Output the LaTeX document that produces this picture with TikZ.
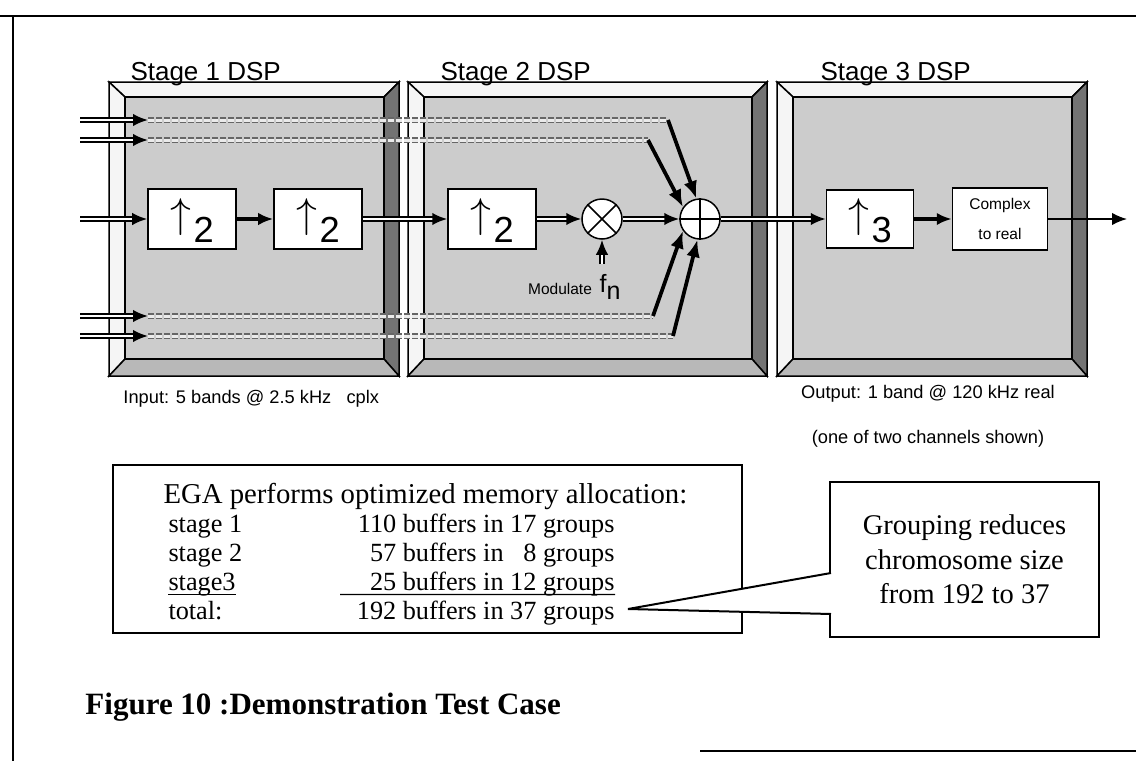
\documentclass[tikz,border=0pt]{standalone}
\usepackage{graphicx}
\usepackage{fontspec}
\setmainfont{Liberation Serif}
\setsansfont{Liberation Sans}
\usetikzlibrary{arrows.meta,positioning}

% up-sampler label: tall thin arrow followed by a lowered factor
\newcommand{\upby}[1]{\raisebox{-6.8pt}{\resizebox*{!}{14.8pt}{\raisebox{\depth}{$\uparrow$}}}\kern1pt\raisebox{-9.2pt}{\fontsize{14.5}{14.5}\selectfont #1}}

\tikzset{
  upbox/.style={draw, fill=white, line width=0.6pt, minimum width=35.2pt, minimum height=24pt, inner sep=0pt,
                text height=0pt, text depth=0pt, font=\sffamily\fontsize{10}{12}\selectfont},
  opnode/.style={draw, circle, fill=white, line width=0.6pt, minimum size=16pt, inner sep=0pt},
  bus/.style={double, double distance=0.8pt, line width=0.9pt, -{Latex[length=6pt,width=5pt]}},
  sig/.style={line width=1.4pt, -{Latex[length=6pt,width=5pt]}},
  feed/.style={line width=1.5pt, -{Latex[length=7pt,width=5.5pt]}},
  chan/.style={black!60, double=black!8, double distance=1.2pt, line width=0.45pt, dash pattern=on 2.5pt off 0.7pt},
  title/.style={font=\sffamily\fontsize{10.4}{12}\selectfont, anchor=base west, inner sep=0pt},
  note/.style={font=\sffamily\fontsize{7.3}{8}\selectfont, inner sep=0pt},
  memo/.style={font=\fontsize{10.5}{12}\selectfont, inner sep=0pt, anchor=base west},
}

\begin{document}
\begin{tikzpicture}[x=0.4pt,y=-0.4pt]
  \useasboundingbox (0,0) rectangle (1136,761);
  % page rules
  \draw[line width=0.8pt] (0,16) -- (1136,16);
  \draw[line width=0.8pt] (13,16) -- (13,761);
  \draw[line width=0.8pt] (700,751) -- (1136,751);

  % DSP panels
  \foreach \xa/\xb in {109/399, 408/767, 777/1087} {
    \draw[line width=0.6pt, fill=black!4] (\xa,82) -- (\xb,82) -- (\xb-15,97) -- (\xa+16,97) -- cycle;
    \draw[line width=0.6pt, fill=black!4] (\xa,82) -- (\xa+16,97) -- (\xa+16,359) -- (\xa,376) -- cycle;
    \draw[line width=0.6pt, fill=black!55] (\xb,82) -- (\xb,376) -- (\xb-15,359) -- (\xb-15,97) -- cycle;
    \draw[line width=0.6pt, fill=black!28] (\xa,376) -- (\xa+16,359) -- (\xb-15,359) -- (\xb,376) -- cycle;
    \draw[line width=0.6pt, fill=black!20] (\xa+16,97) rectangle (\xb-15,359);
  }
  \node[title] (t1) at (130,80) {Stage 1 DSP};
  \node[title] (t2) at (440,80) {Stage 2 DSP};
  \node[title] (t3) at (820,80) {Stage 3 DSP};

  % blocks
  \node[upbox] (up1) at (192,219) {\upby{2}};
  \node[upbox] (up2) at (318,219) {\upby{2}};
  \node[upbox] (up3) at (492,219) {\upby{2}};
  \node[opnode] (mul) at (602,219) {};
  \node[opnode] (sum) at (700,219) {};
  \node[upbox, minimum width=34.8pt, minimum height=23.2pt] (up4) at (870,219) {\upby{3}};
  \node[draw, fill=white, line width=0.6pt, minimum width=38pt, minimum height=24.8pt, inner sep=0pt, align=center,
        font=\sffamily\fontsize{6.2}{7}\selectfont] (c2r) at (1000,219) {Complex\\[5pt]to real};
  \draw[line width=0.6pt] (mul.north west) -- (mul.south east) (mul.north east) -- (mul.south west);
  \draw[line width=0.6pt] (sum.north) -- (sum.south) (sum.west) -- (sum.east);

  % main path
  \coordinate (in0) at (80,219);
  \coordinate (out0) at (1127,219);
  \draw[bus] (in0) -- (up1);
  \draw[sig] (up1) -- (up2);
  \draw[bus] (up2) -- (up3);
  \draw[bus] (up3) -- (mul);
  \draw[bus] (mul) -- (sum);
  \draw[bus] (sum) -- (up4);
  \draw[sig] (up4) -- (c2r);
  \draw[line width=0.7pt, -{Latex[length=6pt,width=5pt]}] (c2r) -- (out0);

  % the other four bands
  \foreach \n/\y/\x/\ang in {a/120/668/100, b/140/648/145, c/316/653/215, d/336/673/263} {
    \coordinate (\n0) at (80,\y);
    \coordinate (\n1) at (148,\y);
    \coordinate (\n2) at (\x,\y);
    \draw[bus] (\n0) -- (\n1);
    \draw[chan] (\n1) -- (\n2);
    \draw[feed] (\n2) -- (sum.\ang);
  }

  % modulation
  \coordinate (mod0) at (602,264);
  \draw[bus] (mod0) -- (mul);
  \node[font=\sffamily\fontsize{6.2}{7}\selectfont, inner sep=0pt] (modlbl) at (560,289) {Modulate};
  \node[font=\sffamily\fontsize{10}{10}\selectfont, inner sep=0pt] (fn) at (610,287) {f\raisebox{-3pt}{n}};

  % labels
  \node[note, anchor=west] (inlbl) at (123,399) {Input: 5 bands @ 2.5 kHz \ \ cplx};
  \node[note] (outlbl) at (928,394) {Output: 1 band @ 120 kHz real};
  \node[note] (chlbl) at (928,439) {(one of two channels shown)};

  % memory table
  \node[draw, fill=white, line width=0.8pt, minimum width=251.6pt, minimum height=67.2pt, inner sep=0pt] (mem) at (427.5,549) {};
  \node[memo, font=\fontsize{11.5}{12}\selectfont] (ega) at (163,503) {EGA performs optimized memory allocation:};
  \node[memo] (s1) at (168,532) {stage 1};
  \node[memo, anchor=base east] (v1) at (615,532) {110 buffers in 17 groups};
  \node[memo] (s2) at (168,561) {stage 2};
  \node[memo, anchor=base east] (v2) at (615,561) {57 buffers in \phantom{1}8 groups};
  \node[memo] (s3) at (168,590) {stage3};
  \node[memo, anchor=base east] (v3) at (615,590) {25 buffers in 12 groups};
  \node[memo] (st) at (168,619) {total:};
  \node[memo, anchor=base east] (vt) at (615,619) {192 buffers in 37 groups};
  \coordinate (u3) at (340,594.5);
  \draw[line width=0.5pt] ([yshift=-1.8pt]s3.base west) -- ([yshift=-1.8pt]s3.base east);
  \draw[line width=0.5pt] (u3) -- ([yshift=-1.8pt]v3.base east);

  % callout
  \node[draw, fill=white, line width=0.8pt, minimum width=107.6pt, minimum height=62pt, align=center,
        font=\fontsize{11.4}{13.8}\selectfont] (call) at (964.5,559.5) {Grouping reduces\\chromosome size\\from 192 to 37};
  \coordinate (tip) at (628,609);
  \coordinate (cu) at (831,573);
  \coordinate (cl) at (831,614);
  \fill[white] (tip) -- ([xshift=1pt]cu) -- ([xshift=1pt]cl) -- cycle;
  \draw[line width=0.8pt] (cu) -- (tip) -- (cl);

  \node[anchor=base west, inner sep=0pt, font=\bfseries\fontsize{12.4}{14}\selectfont] (cap) at (85,714) {Figure 10 :Demonstration Test Case};
\end{tikzpicture}
\end{document}
